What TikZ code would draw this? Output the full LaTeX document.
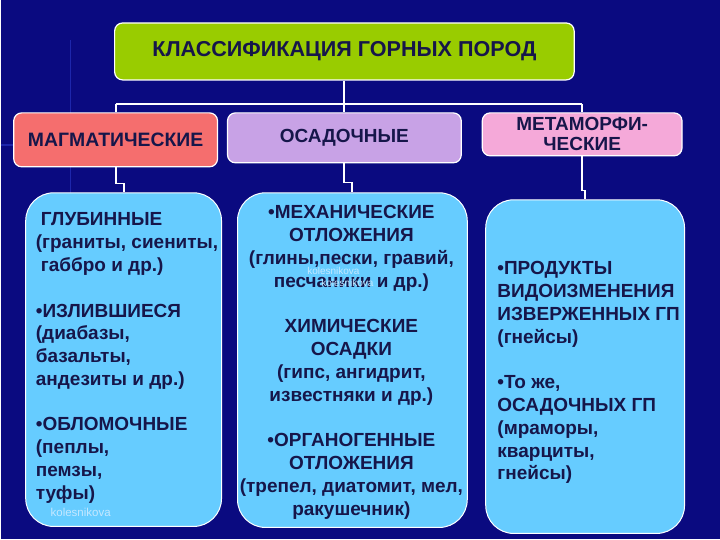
\documentclass[tikz,border=0pt]{standalone}
\usepackage{fontspec}
\setmainfont{Liberation Sans}
\definecolor{bg}{HTML}{0A0A80}
\definecolor{deco}{HTML}{2A3AC8}
\definecolor{lime}{HTML}{99CC00}
\definecolor{magpink}{HTML}{F56E6E}
\definecolor{lav}{HTML}{C8A2E6}
\definecolor{metpink}{HTML}{F5A9D9}
\definecolor{panelblue}{HTML}{66CCFF}
\definecolor{txt}{HTML}{16164A}
\definecolor{wm}{HTML}{C4E8FF}
\tikzset{
  headbox/.style={draw=white, line width=1.2pt, rounded corners=8pt, inner sep=0pt,
    text=txt, align=center, font=\bfseries\fontsize{19}{20}\selectfont},
  panel/.style={draw=white, line width=1pt, fill=panelblue, rounded corners=28pt, inner sep=0pt},
  bodytext/.style={font=\bfseries\fontsize{19}{22.8}\selectfont, text=txt, inner sep=0pt},
  wire/.style={draw=white, line width=1.8pt},
  wmark/.style={font=\fontsize{10}{11}\selectfont, text=wm, inner sep=0pt},
  decoline/.style={draw=deco, line width=1.5pt, opacity=0.6}
}
\begin{document}
\begin{tikzpicture}[x=1pt,y=-1pt]
\path[fill=bg] (0,0) rectangle (720,540);
% template decoration
\draw[decoline] (70,40) -- (70,195);
\draw[decoline] (0,145) -- (13,145);

% header boxes
\node[headbox, fill=lime, minimum width=460pt, minimum height=57pt,
  font=\bfseries\fontsize{21.6}{23}\selectfont] (T) at (344,51.5) {КЛАССИФИКАЦИЯ ГОРНЫХ ПОРОД};
\node[headbox, fill=magpink, minimum width=204pt, minimum height=54pt,
  font=\bfseries\fontsize{19.4}{20}\selectfont] (M) at (115,140) {МАГМАТИЧЕСКИЕ};
\node[headbox, fill=lav, minimum width=234pt, minimum height=50pt] (O) at (344,138) {ОСАДОЧНЫЕ};
\node[headbox, fill=metpink, minimum width=200pt, minimum height=43pt] (Mt) at (582,134.5) {МЕТАМОРФИ-\\ЧЕСКИЕ};

% panels
\node[panel, minimum width=196pt, minimum height=334pt] (L1) at (123,360) {};
\node[panel, minimum width=230pt, minimum height=335pt] (L2) at (352,360.5) {};
\node[panel, minimum width=199pt, minimum height=334pt] (L3) at (585,367) {};

% connectors
\coordinate (hL) at (115,104);
\coordinate (hR) at (582,104);
\draw[wire] (T.south) -- (O.north);
\draw[wire] (hL) -- (hR);
\draw[wire] (hL) -- (M.north);
\draw[wire] (hR) -- (Mt.north);
\draw[wire] (M.south) -- ++(0,16) -| (L1.north);
\draw[wire] (O.south) -- ++(0,19) -| (L2.north);
\draw[wire] (Mt.south) -- ++(0,34) -| (L3.north);

% panel texts
\node[bodytext, anchor=north west, align=left] (t1) at (35,210)
  {\strut\hspace*{5pt}ГЛУБИННЫЕ\\(граниты, сиениты,\\\hspace*{5pt}габбро и др.)\\[22.8pt]
   •ИЗЛИВШИЕСЯ\\(диабазы,\\базальты,\\андезиты и др.)\\[22.8pt]
   •ОБЛОМОЧНЫЕ\\(пеплы,\\пемзы,\\туфы)};
\node[bodytext, anchor=north, align=center] (t2) at (351,203)
  {\strut•МЕХАНИЧЕСКИЕ\\ОТЛОЖЕНИЯ\\(глины,пески, гравий,\\песчаники и др.)\\[22.8pt]
   ХИМИЧЕСКИЕ\\ОСАДКИ\\(гипс, ангидрит,\\известняки и др.)\\[22.8pt]
   •ОРГАНОГЕННЫЕ\\ОТЛОЖЕНИЯ\\(трепел, диатомит, мел,\\ракушечник)};
\node[bodytext, anchor=north west, align=left] (t3) at (497,259)
  {\strut•ПРОДУКТЫ\\ВИДОИЗМЕНЕНИЯ\\ИЗВЕРЖЕННЫХ ГП\\(гнейсы)\\[22.8pt]
   •То же,\\ОСАДОЧНЫХ ГП\\(мраморы,\\кварциты,\\гнейсы)};

% watermarks
\node[wmark, font=\fontsize{11.5}{12}\selectfont] (w1) at (80,513) {kolesnikova};
\node[wmark] (w2) at (333,271) {kolesnikova};
\node[wmark] (w3) at (347,283) {kolesnikova};
\end{tikzpicture}
\end{document}
